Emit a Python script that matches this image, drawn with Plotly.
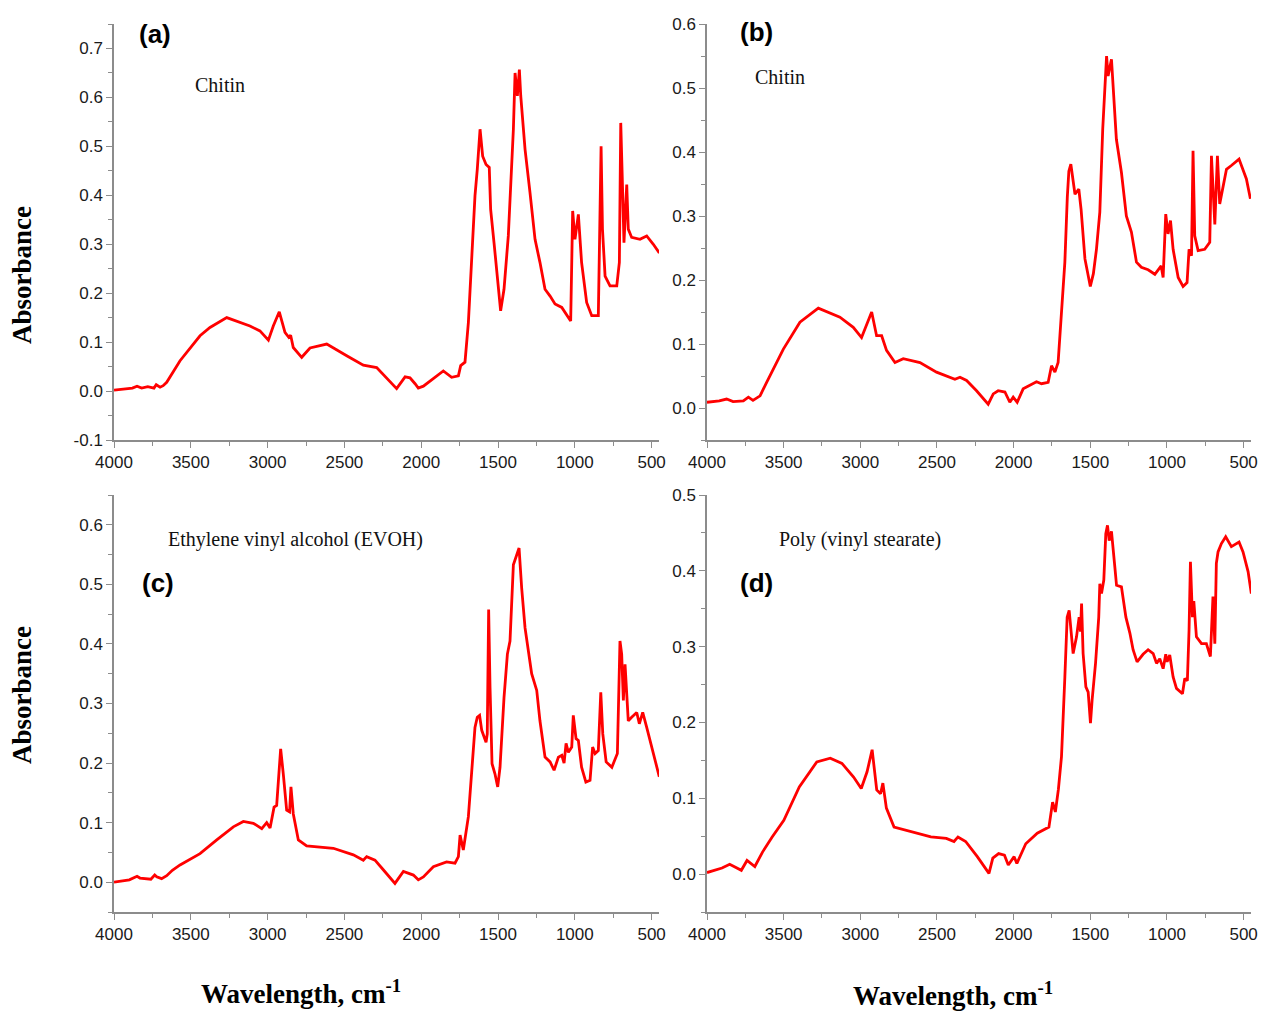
import plotly.graph_objects as go

# ---------------- data ----------------
wn_a = [4000, 3920, 3880, 3850, 3820, 3780, 3740, 3725, 3700, 3680, 3657, 3570, 3440, 3375, 3266, 3115, 3050, 2995, 2963, 2924, 2887,
        2862, 2850, 2833, 2778, 2724, 2615, 2485, 2377, 2290, 2214, 2160, 2105, 2073, 2040, 2019,
        1986, 1921, 1856, 1802, 1758, 1743, 1715, 1693, 1671, 1650, 1635, 1617, 1600, 1578, 1557,
        1548, 1526, 1498, 1483, 1461, 1433, 1400, 1389, 1374, 1361, 1352, 1324, 1292, 1259, 1227,
        1194, 1161, 1129, 1085, 1053, 1027, 1014, 999, 977, 956, 923, 890, 847, 836, 829,
        820, 803, 771, 727, 710, 701, 688, 680, 662, 652, 630, 576, 532, 489, 450]
abs_a = [0.002, 0.004, 0.006, 0.010, 0.006, 0.009, 0.006, 0.013, 0.008, 0.011, 0.018, 0.062, 0.113, 0.130, 0.150, 0.133, 0.123, 0.104, 0.133, 0.162, 0.120,
         0.110, 0.114, 0.089, 0.069, 0.088, 0.096, 0.072, 0.053, 0.048, 0.024, 0.005, 0.029, 0.027, 0.015, 0.006,
         0.010, 0.026, 0.041, 0.028, 0.031, 0.052, 0.059, 0.140, 0.263, 0.399, 0.453, 0.535, 0.480, 0.463, 0.457,
         0.371, 0.303, 0.208, 0.164, 0.208, 0.317, 0.535, 0.650, 0.603, 0.657, 0.603, 0.494, 0.406, 0.310, 0.263,
         0.208, 0.194, 0.178, 0.171, 0.154, 0.143, 0.368, 0.310, 0.361, 0.263, 0.181, 0.154, 0.154, 0.399, 0.500,
         0.331, 0.235, 0.215, 0.215, 0.263, 0.548, 0.399, 0.303, 0.422, 0.331, 0.314, 0.310, 0.317, 0.300, 0.282]

wn_b = [4000, 3920, 3872, 3830, 3763, 3730, 3700, 3654, 3611, 3502, 3394, 3274, 3133, 3046, 2992, 2959, 2926, 2894, 2861,
        2829, 2774, 2720, 2611, 2503, 2383, 2350, 2307, 2242, 2166, 2133, 2101, 2057, 2025, 2003,
        1977, 1938, 1851, 1818, 1775, 1753, 1731, 1710, 1688, 1666, 1650, 1640, 1627, 1600, 1575,
        1560, 1535, 1508, 1500, 1480, 1460, 1438, 1419, 1394, 1384, 1362, 1356, 1330, 1297, 1265,
        1232, 1199, 1167, 1123, 1079, 1046, 1038, 1025, 1008, 993, 977, 960, 927, 895, 869,
        856, 840, 830, 819, 797, 754, 721, 710, 688, 671, 656, 612, 580, 530, 482, 456]
abs_b = [0.009, 0.011, 0.014, 0.010, 0.011, 0.017, 0.012, 0.019, 0.040, 0.092, 0.134, 0.156, 0.142, 0.126, 0.110, 0.129, 0.150, 0.113, 0.113,
         0.090, 0.071, 0.077, 0.071, 0.056, 0.045, 0.048, 0.043, 0.027, 0.006, 0.022, 0.027, 0.025, 0.009, 0.017,
         0.009, 0.030, 0.041, 0.038, 0.040, 0.066, 0.056, 0.071, 0.150, 0.228, 0.330, 0.370, 0.381, 0.334, 0.342,
         0.310, 0.233, 0.197, 0.190, 0.210, 0.248, 0.306, 0.436, 0.550, 0.519, 0.545, 0.519, 0.420, 0.368, 0.300,
         0.275, 0.228, 0.220, 0.216, 0.209, 0.221, 0.222, 0.204, 0.303, 0.272, 0.293, 0.248, 0.204, 0.190, 0.196,
         0.248, 0.238, 0.402, 0.269, 0.246, 0.248, 0.259, 0.394, 0.287, 0.394, 0.319, 0.373, 0.379, 0.389, 0.358, 0.327]

wn_c = [4000, 3900, 3850, 3831, 3760, 3735, 3722, 3690, 3657, 3620, 3570, 3440, 3331, 3223, 3158, 3093, 3038, 3006, 2984, 2958, 2941,
        2915, 2898, 2876, 2857, 2848, 2833, 2800, 2746, 2572, 2442, 2377, 2355, 2301, 2247, 2171,
        2116, 2051, 2019, 1986, 1921, 1835, 1780, 1758, 1747, 1726, 1693, 1671, 1650, 1635, 1620,
        1606, 1578, 1570, 1561, 1552, 1539, 1520, 1502, 1487, 1461, 1439, 1422, 1400, 1378, 1363,
        1346, 1324, 1281, 1248, 1227, 1194, 1161, 1135, 1107, 1085, 1070, 1057, 1042, 1020, 1010,
        992, 977, 956, 928, 901, 884, 868, 847, 831, 818, 796, 759, 723, 706, 695,
        684, 673, 662, 652, 630, 597, 580, 558, 532, 489, 450]
abs_c = [0.000, 0.004, 0.010, 0.007, 0.005, 0.012, 0.009, 0.006, 0.011, 0.020, 0.029, 0.048, 0.071, 0.093, 0.102, 0.099, 0.090, 0.100, 0.091, 0.126, 0.129,
         0.224, 0.182, 0.121, 0.118, 0.160, 0.115, 0.071, 0.061, 0.057, 0.046, 0.037, 0.043, 0.037, 0.021, -0.002,
         0.018, 0.012, 0.004, 0.009, 0.026, 0.034, 0.032, 0.043, 0.079, 0.054, 0.110, 0.182, 0.260, 0.277, 0.280,
         0.255, 0.235, 0.249, 0.458, 0.327, 0.199, 0.182, 0.160, 0.193, 0.310, 0.383, 0.405, 0.533, 0.550, 0.561,
         0.494, 0.427, 0.350, 0.322, 0.271, 0.210, 0.202, 0.188, 0.210, 0.213, 0.200, 0.233, 0.218, 0.227, 0.280,
         0.241, 0.238, 0.193, 0.168, 0.171, 0.227, 0.216, 0.221, 0.319, 0.249, 0.202, 0.193, 0.216, 0.405, 0.383,
         0.305, 0.366, 0.316, 0.271, 0.277, 0.285, 0.266, 0.285, 0.260, 0.216, 0.177]

wn_d = [4000, 3902, 3852, 3776, 3739, 3688, 3638, 3575, 3499, 3398, 3284, 3196, 3120, 3044, 2994,
        2956, 2923, 2893, 2868, 2853, 2830, 2780, 2540, 2439, 2389, 2363, 2313, 2237, 2161, 2136,
        2098, 2060, 2035, 1997, 1979, 1921, 1846, 1770, 1746, 1728, 1708, 1688, 1666, 1651, 1638,
        1629, 1612, 1590, 1573, 1564, 1557, 1547, 1529, 1514, 1499, 1488, 1466, 1445, 1438, 1427,
        1412, 1399, 1388, 1377, 1362, 1340, 1329, 1297, 1268, 1242, 1221, 1195, 1156, 1123, 1090,
        1068, 1047, 1025, 1008, 999, 982, 960, 938, 899, 884, 867, 856, 847, 834, 825,
        808, 775, 743, 717, 700, 688, 678, 667, 645, 617, 580, 530, 504, 471, 450]
abs_d = [0.002, 0.008, 0.013, 0.005, 0.018, 0.010, 0.029, 0.049, 0.071, 0.115, 0.148, 0.153, 0.146, 0.128, 0.113,
         0.135, 0.164, 0.111, 0.106, 0.120, 0.087, 0.062, 0.049, 0.047, 0.043, 0.049, 0.043, 0.023, 0.001, 0.021,
         0.027, 0.025, 0.012, 0.023, 0.014, 0.040, 0.054, 0.062, 0.095, 0.082, 0.112, 0.155, 0.260, 0.339, 0.348,
         0.330, 0.291, 0.313, 0.339, 0.320, 0.357, 0.291, 0.247, 0.240, 0.199, 0.230, 0.278, 0.339, 0.383, 0.370,
         0.388, 0.449, 0.460, 0.440, 0.452, 0.405, 0.381, 0.379, 0.339, 0.318, 0.296, 0.280, 0.290, 0.296, 0.291,
         0.278, 0.284, 0.271, 0.290, 0.280, 0.289, 0.260, 0.245, 0.238, 0.258, 0.255, 0.322, 0.412, 0.339, 0.360,
         0.313, 0.304, 0.304, 0.287, 0.366, 0.304, 0.410, 0.425, 0.436, 0.445, 0.432, 0.438, 0.425, 0.399, 0.370]

x_ticks = [4000, 3500, 3000, 2500, 2000, 1500, 1000, 500]
y_ticks_a = [-0.1, 0.0, 0.1, 0.2, 0.3, 0.4, 0.5, 0.6, 0.7]
y_ticks_b = [0.0, 0.1, 0.2, 0.3, 0.4, 0.5, 0.6]
y_ticks_c = [0.0, 0.1, 0.2, 0.3, 0.4, 0.5, 0.6]
y_ticks_d = [0.0, 0.1, 0.2, 0.3, 0.4, 0.5]

panel_labels = ["(a)", "(b)", "(c)", "(d)"]
sample_names = ["Chitin", "Chitin", "Ethylene vinyl alcohol (EVOH)", "Poly (vinyl stearate)"]
y_title = "Absorbance"
x_title = "Wavelength, cm<sup>-1</sup>"

# ---------------- layout geometry ----------------
W, H = 1267, 1013
def px_x(p): return p / W
def px_y(p): return 1 - p / H

dom_x_left = [px_x(114), px_x(659)]
dom_x_right = [px_x(707), px_x(1251)]
dom_y_top = [px_y(440), px_y(24)]
dom_y_bot = [px_y(912), px_y(495)]

AX_COL = "#8c8c8c"
TICK_FONT = dict(family="Liberation Sans, Arial, sans-serif", size=17, color="#1a1a1a")
RED = "#ff0000"

fig = go.Figure()
series = [(wn_a, abs_a), (wn_b, abs_b), (wn_c, abs_c), (wn_d, abs_d)]
for i, (xs, ys) in enumerate(series):
    sfx = "" if i == 0 else str(i + 1)
    fig.add_trace(go.Scatter(x=xs, y=ys, mode="lines", line=dict(color=RED, width=2.8),
                             xaxis="x" + sfx, yaxis="y" + sfx, showlegend=False,
                             hoverinfo="skip"))

def xaxis(dom, anchor):
    return dict(domain=dom, anchor=anchor, range=[4000, 452], autorange=False, automargin=False,
                tickvals=x_ticks, ticktext=[str(v) for v in x_ticks],
                showline=True, linecolor=AX_COL, linewidth=1.5, mirror=False,
                ticks="outside", ticklen=6, tickcolor=AX_COL, tickwidth=1.2,
                minor=dict(ticks="outside", ticklen=4, dtick=250, tick0=0, tickcolor=AX_COL, tickwidth=1.2),
                showgrid=False, zeroline=False, tickfont=TICK_FONT)

def yaxis(dom, anchor, rng, ticks):
    return dict(domain=dom, anchor=anchor, range=rng, autorange=False, automargin=False,
                tickvals=ticks, ticktext=[f"{v:.1f}" for v in ticks],
                showline=True, linecolor=AX_COL, linewidth=1.5, mirror=False,
                ticks="outside", ticklen=6, tickcolor=AX_COL, tickwidth=1.2,
                minor=dict(ticks="outside", ticklen=4, dtick=0.05, tick0=0, tickcolor=AX_COL, tickwidth=1.2),
                showgrid=False, zeroline=False, tickfont=TICK_FONT)

fig.update_layout(
    width=W, height=H, margin=dict(l=0, r=0, t=0, b=0, autoexpand=False),
    paper_bgcolor="white", plot_bgcolor="white", showlegend=False,
    xaxis=xaxis(dom_x_left, "y"), yaxis=yaxis(dom_y_top, "x", [-0.1, 0.7501], y_ticks_a),
    xaxis2=xaxis(dom_x_right, "y2"), yaxis2=yaxis(dom_y_top, "x2", [-0.05, 0.6001], y_ticks_b),
    xaxis3=xaxis(dom_x_left, "y3"), yaxis3=yaxis(dom_y_bot, "x3", [-0.05, 0.6501], y_ticks_c),
    xaxis4=xaxis(dom_x_right, "y4"), yaxis4=yaxis(dom_y_bot, "x4", [-0.05, 0.5001], y_ticks_d),
)

ann = []
label_pos = [(155, 34), (756, 32), (158, 583), (757, 583)]
for lab, (x, y) in zip(panel_labels, label_pos):
    ann.append(dict(text=f"<b>{lab}</b>", x=px_x(x), y=px_y(y), xref="paper", yref="paper",
                    xanchor="center", yanchor="middle", showarrow=False,
                    font=dict(family="Liberation Sans, Arial, sans-serif", size=26, color="black")))
name_pos = [(193, 85), (753, 77), (166, 539), (777, 539)]
for nm, (x, y) in zip(sample_names, name_pos):
    ann.append(dict(text=nm, x=px_x(x), y=px_y(y), xref="paper", yref="paper",
                    xanchor="left", yanchor="middle", showarrow=False,
                    font=dict(family="Liberation Serif, Times New Roman, serif", size=20, color="#111111")))
for y in (275, 695):
    ann.append(dict(text=f"<b>{y_title}</b>", x=px_x(22), y=px_y(y), xref="paper", yref="paper",
                    xanchor="center", yanchor="middle", showarrow=False, textangle=-90,
                    font=dict(family="Liberation Serif, Times New Roman, serif", size=27, color="black")))
for x, y in ((301, 992), (953, 994)):
    ann.append(dict(text=f"<b>{x_title}</b>", x=px_x(x), y=px_y(y), xref="paper", yref="paper",
                    xanchor="center", yanchor="middle", showarrow=False,
                    font=dict(family="Liberation Serif, Times New Roman, serif", size=27, color="black")))
fig.update_layout(annotations=ann)

fig.write_html("out.html")
